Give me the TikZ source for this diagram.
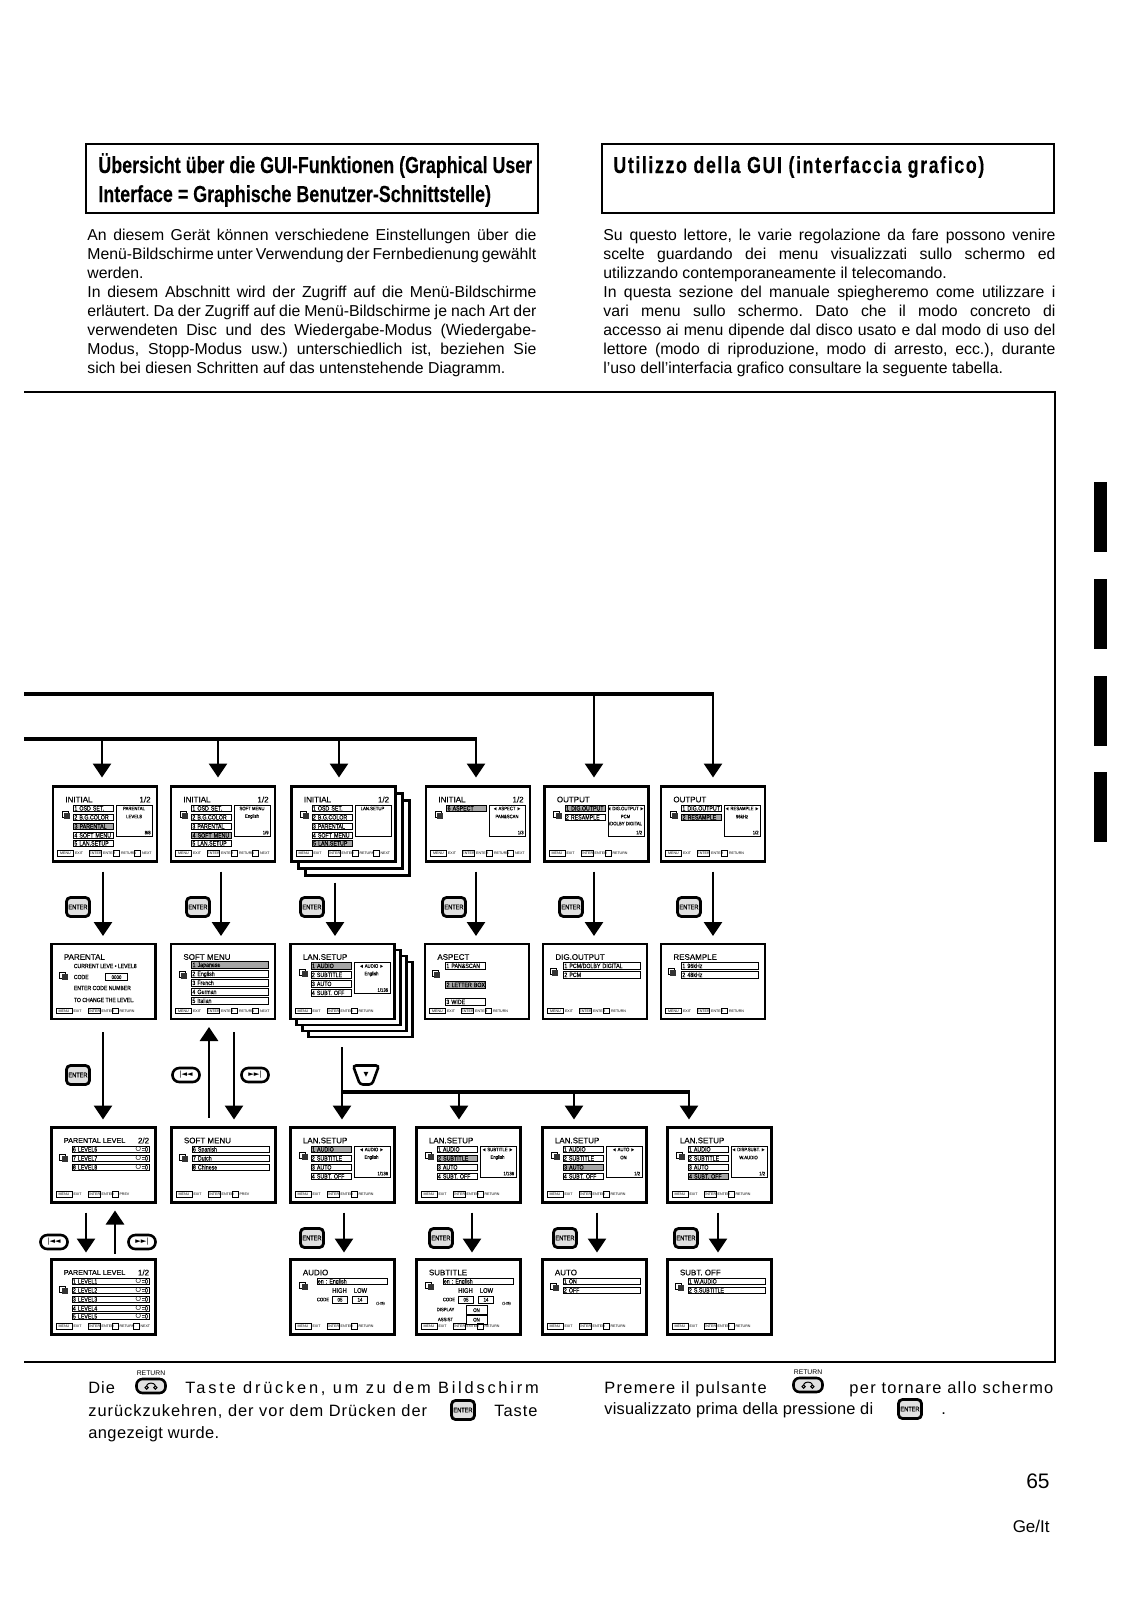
\documentclass[tikz,border=0pt]{standalone}
\usepackage{fontspec}
\setmainfont{Liberation Sans}
\newfontfamily\headfont[UprightFont=* Bold,FakeStretch=0.77,FakeBold=0.15]{Liberation Sans}
\newfontfamily\spacedfont[LetterSpace=6]{Liberation Sans}
\newfontfamily\menufont[FakeStretch=0.85,FakeBold=0.1]{Liberation Sans}
\newfontfamily\scrnfont[FakeBold=0.15]{Liberation Sans}
\newfontfamily\glyphfont{DejaVu Sans}
\usepackage{xcolor}
\usetikzlibrary{arrows.meta,positioning,shapes.geometric}
\newcommand{\uifont}[1]{\fontsize{#1}{#1}\selectfont}
% Texts of one menu screen, placed from its upper left corner in pixels.
\newcommand{\scrntitle}[2]{\node[scrnhead] (#1-title) at ([shift={(12,13)}]#1.north west) {#2};}
\newcommand{\scrnpage}[2]{\node[scrnhead,anchor=east] (#1-page) at ([shift={(98,13)}]#1.north west) {#2};}
\newcommand{\menuopt}[5][opt]{\node[#1,text width=19pt] (#2-opt#3) at ([shift={(20,#4)}]#2.north west) {\mbox{#5}};}
\newcommand{\wideopt}[5][opt]{\node[#1,text width=37.5pt] (#2-opt#3) at ([shift={(20,#4)}]#2.north west) {#5};}
\newcommand{\scrnicon}[3]{%
  \node[iconback] (#1-iconb) at ([shift={(#2,#3)}]#1.north west) {};
  \node[iconfront] (#1-iconf) at ([shift={(#2+2,#3+1.5)}]#1.north west) {};}
\newcommand{\scrnside}[4]{%
  \node[panel] (#1-side) at ([shift={(63,18)}]#1.north west) {};
  \node[panelnote] (#1-side1) at ([shift={(81,22)}]#1.north west) {#2};
  \node[panelnote] (#1-side2) at ([shift={(81,30)}]#1.north west) {#3};
  \node[panelnote,anchor=east] (#1-side3) at ([shift={(98,46)}]#1.north west) {#4};}
\newcommand{\barkey}[5]{%
  \node[barkeybox,minimum width=#4*0.5pt] (#1-key#2) at ([shift={(#3,67)}]#1.north west) {\uifont{1.8}#5};}
\newcommand{\barlabel}[3]{\node[barnote,right=0.4pt of #1-key#2] (#1-lab#2) {#3};}
% Key hints along the foot of a screen.
\newcommand{\basebar}[1]{%
  \barkey{#1}{1}{4}{16}{MENU}\barlabel{#1}{1}{EXIT}
  \barkey{#1}{2}{36}{12}{ENTER}\barlabel{#1}{2}{ENTER}}
\newcommand{\returnbar}[1]{\basebar{#1}
  \barkey{#1}{3}{60}{6}{}\barlabel{#1}{3}{RETURN}}
\newcommand{\nextbar}[1]{\returnbar{#1}
  \barkey{#1}{4}{81}{6}{}\barlabel{#1}{4}{NEXT}}
\newcommand{\prevbar}[1]{\basebar{#1}
  \barkey{#1}{3}{60}{6}{}\barlabel{#1}{3}{PREV}}
% The menus that repeat, with the style of each line as argument.
\newcommand{\initialmenu}[6]{%
  \scrntitle{#1}{INITIAL}\scrnpage{#1}{1/2}\scrnicon{#1}{12}{28}
  \menuopt[#2]{#1}{1}{22}{1 OSD SET.}
  \menuopt[#3]{#1}{2}{31}{2 B.G.COLOR}
  \menuopt[#4]{#1}{3}{40}{3 PARENTAL}
  \menuopt[#5]{#1}{4}{49}{4 SOFT MENU}
  \menuopt[#6]{#1}{5}{57}{5 LAN.SETUP}
  \nextbar{#1}}
\newcommand{\lanmenu}[5]{%
  \scrntitle{#1}{LAN.SETUP}\scrnicon{#1}{12}{28}
  \menuopt[#2]{#1}{1}{22}{1 AUDIO}
  \menuopt[#3]{#1}{2}{31}{2 SUBTITLE}
  \menuopt[#4]{#1}{3}{40}{3 AUTO}
  \menuopt[#5]{#1}{4}{49}{4 SUBT. OFF}
  \returnbar{#1}}
\newcommand{\codepanel}[2]{%
  \scrntitle{#1}{#2}\scrnicon{#1}{12}{26}
  \node[opt,text width=34pt] (#1-lang) at ([shift={(26,22)}]#1.north west) {en : English};
  \node[panelnote,font=\menufont\uifont{3.4}] (#1-high) at ([shift={(49,31)}]#1.north west) {HIGH};
  \node[panelnote,font=\menufont\uifont{3.4}] (#1-low) at ([shift={(70,31)}]#1.north west) {LOW};
  \node[panelnote,anchor=east] (#1-code) at ([shift={(39,40)}]#1.north west) {CODE};
  \node[valuebox,minimum width=7.5pt] (#1-hv) at ([shift={(49.5,40)}]#1.north west) {05};
  \node[valuebox,minimum width=7.5pt] (#1-lv) at ([shift={(69.5,40)}]#1.north west) {14};
  \node[panelnote,font=\menufont\uifont{1.8}] (#1-range) at ([shift={(90,44)}]#1.north west) {(1-26)};}
% Button drawn between two menu levels.
\newcommand{\returnicon}[3]{%
  \node[returnbtn] (#1) at (#2,#3) {};
  \node[returndisc] (#1-l) at ([xshift=-2.2pt,yshift=-0.8pt]#1.center) {};
  \node[returndisc] (#1-r) at ([xshift=2.2pt,yshift=-0.8pt]#1.center) {};
  \draw[line width=0.5pt] (#1-l.north) to[out=70,in=110] (#1-r.north);
  \node[returnnote] (#1-note) at (#2,#3-13) {RETURN};}
\frenchspacing
\begin{document}
\begin{tikzpicture}[x=0.5pt,y=-0.5pt,
  headbox/.style={draw,line width=0.7pt,minimum width=226pt,minimum height=34.5pt,outer sep=0pt},
  headline/.style={anchor=base west,inner sep=0pt,font=\headfont\fontsize{11.6}{14.5}\selectfont},
  bodytext/.style={anchor=north west,inner sep=0pt,text width=226pt,align=justify,
                   font=\fontsize{7.9}{9.5}\selectfont},
  foottext/.style={anchor=base west,inner sep=0pt,font=\spacedfont\fontsize{8.2}{10}\selectfont},
  pageno/.style={anchor=base east,inner sep=0pt},
  edgebar/.style={fill=black,minimum width=6.5pt,inner sep=0pt},
  frameline/.style={line width=0.7pt},
  screen/.style={draw,fill=white,line width=1.2pt,minimum width=52pt,minimum height=37.5pt,
                 inner sep=0pt,outer sep=0pt},
  scrnhead/.style={anchor=west,inner sep=0pt,font=\scrnfont\uifont{4}},
  opt/.style={draw,line width=0.4pt,anchor=west,inner xsep=0.5pt,inner ysep=0pt,align=left,
              text height=2.6pt,text depth=0.6pt,font=\menufont\uifont{3.1}},
  sel/.style={opt,fill=black!35,line width=0.6pt},
  valuebox/.style={draw,line width=0.4pt,inner sep=0pt,minimum height=3.4pt,
                   text height=2.3pt,text depth=0.3pt,font=\menufont\uifont{2.6}},
  panel/.style={draw,line width=0.5pt,anchor=north west,minimum width=18pt,minimum height=15.5pt,
                inner sep=0pt},
  panelnote/.style={inner sep=0pt,font=\menufont\uifont{2.5}},
  barkeybox/.style={draw,line width=0.4pt,anchor=west,inner sep=0pt,minimum height=2.8pt,
                    text height=1.6pt,text depth=0.2pt},
  barnote/.style={inner sep=0pt,font=\uifont{1.8}},
  iconback/.style={draw,line width=0.3pt,fill=white,minimum size=3pt,inner sep=0pt},
  iconfront/.style={fill=black!80,minimum size=3pt,inner sep=0pt},
  arrow/.style={-{Triangle[length=7pt,width=9pt]},line width=1.4pt},
  trunk/.style={line width=1.7pt},
  flow/.style={arrow,shorten <=5pt,shorten >=4pt},
  enterbtn/.style={draw,line width=1.4pt,rounded corners=2pt,fill=black!12,minimum width=11.5pt,
                   minimum height=9.5pt,inner sep=0pt,font=\menufont\uifont{3.3}},
  skipbtn/.style={draw,line width=1.3pt,rounded corners=3.4pt,minimum width=13.5pt,minimum height=7pt,
                  inner sep=0pt,font=\glyphfont\uifont{3.6}},
  cursorbtn/.style={draw,line width=1.3pt,trapezium,shape border rotate=180,rounded corners=1.5pt,
                    trapezium stretches=true,minimum width=13pt,minimum height=9.5pt,inner sep=0pt,
                    font=\glyphfont\uifont{3.2}},
  returnbtn/.style={draw,line width=1.3pt,rounded corners=3pt,minimum width=14.5pt,minimum height=7pt,
                    inner sep=0pt,fill=black!12},
  returndisc/.style={draw,circle,line width=0.5pt,minimum size=1.6pt,inner sep=0pt},
  returnnote/.style={inner sep=0pt,font=\uifont{3.4}}
]
\useasboundingbox (0,0) rectangle (1131,1600);

% Headings and introduction in the two languages.
\node[headbox] (headde) at (312,178.5) {};
\node[headline] (headde1) at (98,173) {Übersicht über die GUI-Funktionen (Graphical User};
\node[headline] (headde2) at (98,202) {Interface = Graphische Benutzer-Schnittstelle)};
\node[headbox] (headit) at (828,178.5) {};
\node[headline] (headit1) at (613,173) {\addfontfeature{LetterSpace=6.8}Utilizzo della GUI (interfaccia grafico)};
\node[bodytext,text width=224.5pt] (introde) at (87,229)
  {An diesem Gerät können verschiedene Einstellungen über die\linebreak
   Menü-Bildschirme unter Verwendung der Fernbedienung gewählt\linebreak
   werden.\\
   In diesem Abschnitt wird der Zugriff auf die Menü-Bildschirme\linebreak
   erläutert. Da der Zugriff auf die Menü-Bildschirme je nach Art der\linebreak
   verwendeten Disc und des Wiedergabe-Modus (Wiedergabe-\linebreak
   Modus, Stopp-Modus usw.) unterschiedlich ist, beziehen Sie\linebreak
   sich bei diesen Schritten auf das untenstehende Diagramm.};
\node[bodytext] (introit) at (603,229)
  {Su questo lettore, le varie regolazione da fare possono venire\linebreak
   scelte guardando dei menu visualizzati sullo schermo ed\linebreak
   utilizzando contemporaneamente il telecomando.\\
   In questa sezione del manuale spiegheremo come utilizzare i\linebreak
   vari menu sullo schermo. Dato che il modo concreto di\linebreak
   accesso ai menu dipende dal disco usato e dal modo di uso del\linebreak
   lettore (modo di riproduzione, modo di arresto, ecc.), durante\linebreak
   l’uso dell’interfacia grafico consultare la seguente tabella.};
\draw[frameline] (24,392) -| (1055,1362) -- (24,1362);

% Thumb marks on the page edge.
\node[edgebar,minimum height=35pt] (mark1) at (1100.5,517) {};
\node[edgebar,minimum height=35pt] (mark2) at (1100.5,613.5) {};
\node[edgebar,minimum height=35pt] (mark3) at (1100.5,711) {};
\node[edgebar,minimum height=35pt] (mark4) at (1100.5,807) {};

% First row of screens.
\node[screen] (a3-back2) at (357.5,838) {};
\node[screen] (a3-back1) at (350.5,831) {};
\node[screen] (a1) at (105,824) {};
\node[screen] (a2) at (223,824) {};
\node[screen] (a3) at (343.5,824) {};
\node[screen] (a4) at (478,824) {};
\node[screen] (a5) at (596.5,824) {};
\node[screen] (a6) at (713,824) {};
\initialmenu{a1}{opt}{opt}{sel}{opt}{opt}
\scrnside{a1}{PARENTAL}{LEVEL8}{8/8}
\initialmenu{a2}{opt}{opt}{opt}{sel}{opt}
\scrnside{a2}{SOFT MENU}{English}{1/9}
\initialmenu{a3}{opt}{opt}{opt}{opt}{sel}
\scrnside{a3}{LAN.SETUP}{}{}
\scrntitle{a4}{INITIAL}\scrnpage{a4}{1/2}\scrnicon{a4}{12}{28}
\menuopt[sel]{a4}{1}{22}{6 ASPECT}
\scrnside{a4}{◄ ASPECT ►}{PAN\&SCAN}{1/3}
\nextbar{a4}
\scrntitle{a5}{OUTPUT}\scrnicon{a5}{12}{28}
\menuopt[sel]{a5}{1}{22}{1 DIG.OUTPUT}
\menuopt{a5}{2}{31}{2 RESAMPLE}
\scrnside{a5}{◄ DIG.OUTPUT ►}{PCM}{1/2}
\node[panelnote] (a5-side4) at ([shift={(81,37)}]a5.north west) {/DOLBY DIGITAL};
\returnbar{a5}
\scrntitle{a6}{OUTPUT}\scrnicon{a6}{12}{28}
\menuopt{a6}{1}{22}{1 DIG.OUTPUT}
\menuopt[sel]{a6}{2}{31}{2 RESAMPLE}
\scrnside{a6}{◄ RESAMPLE ►}{96kHz}{1/2}
\returnbar{a6}

% Second row of screens.
\node[screen] (b3-back3) at (360.5,999.5) {};
\node[screen] (b3-back2) at (354.5,993.5) {};
\node[screen] (b3-back1) at (348.5,987.5) {};
\node[screen] (b1) at (103.5,981.5) {};
\node[screen] (b2) at (223,981.5) {};
\node[screen] (b3) at (342.5,981.5) {};
\node[screen] (b4) at (477,981.5) {};
\node[screen] (b5) at (595,981.5) {};
\node[screen] (b6) at (713,981.5) {};
\scrntitle{b1}{PARENTAL}\scrnicon{b1}{11}{31}
\node[panelnote,anchor=west,font=\menufont\uifont{3}] (b1-line1) at ([shift={(22,22)}]b1.north west) {CURRENT LEVE • LEVEL8};
\node[panelnote,anchor=west,font=\menufont\uifont{3}] (b1-line2) at ([shift={(22,33)}]b1.north west) {CODE};
\node[valuebox,minimum width=11pt] (b1-code) at ([shift={(65,33)}]b1.north west) {0000};
\node[panelnote,anchor=west,font=\menufont\uifont{3}] (b1-line3) at ([shift={(22,44)}]b1.north west) {ENTER CODE NUMBER};
\node[panelnote,anchor=west,font=\menufont\uifont{3}] (b1-line4) at ([shift={(22,56)}]b1.north west) {TO CHANGE THE LEVEL.};
\returnbar{b1}
\scrntitle{b2}{SOFT MENU}\scrnicon{b2}{11}{30}
\wideopt[sel]{b2}{1}{21}{1 Japanese}
\wideopt{b2}{2}{30}{2 English}
\wideopt{b2}{3}{39}{3 French}
\wideopt{b2}{4}{48}{4 German}
\wideopt{b2}{5}{57}{5 Italian}
\nextbar{b2}
\lanmenu{b3}{sel}{opt}{opt}{opt}
\scrnside{b3}{◄ AUDIO ►}{English}{1/136}
\scrntitle{b4}{ASPECT}\scrnicon{b4}{10}{29}
\menuopt{b4}{1}{22}{1 PAN\&SCAN}
\menuopt[sel]{b4}{2}{41}{2 LETTER BOX}
\menuopt{b4}{3}{58}{3 WIDE}
\returnbar{b4}
\scrntitle{b5}{DIG.OUTPUT}\scrnicon{b5}{10}{27}
\wideopt{b5}{1}{22}{1 PCM/DOLBY DIGITAL}
\wideopt{b5}{2}{31}{2 PCM}
\returnbar{b5}
\scrntitle{b6}{RESAMPLE}\scrnicon{b6}{10}{27}
\wideopt{b6}{1}{22}{1 96kHz}
\wideopt{b6}{2}{31}{2 48kHz}
\returnbar{b6}

% Third row of screens.
\node[screen] (c1) at (103.5,1165) {};
\node[screen] (c2) at (223.5,1165) {};
\node[screen] (c3) at (342.5,1165) {};
\node[screen] (c4) at (468.5,1165) {};
\node[screen] (c5) at (594.5,1165) {};
\node[screen] (c6) at (719.5,1165) {};
\node[scrnhead,font=\scrnfont\uifont{3.6}] (c1-title) at ([shift={(12,13)}]c1.north west) {PARENTAL LEVEL};
\scrnpage{c1}{2/2}\scrnicon{c1}{11}{30}
\wideopt{c1}{1}{22}{6 LEVEL6\hfill $\circ$=0}
\wideopt{c1}{2}{31}{7 LEVEL7\hfill $\circ$=0}
\wideopt{c1}{3}{40}{8 LEVEL8\hfill $\circ$=0}
\prevbar{c1}
\scrntitle{c2}{SOFT MENU}\scrnicon{c2}{11}{30}
\wideopt{c2}{1}{22}{6 Spanish}
\wideopt{c2}{2}{31}{7 Dutch}
\wideopt{c2}{3}{40}{8 Chinese}
\prevbar{c2}
\lanmenu{c3}{sel}{opt}{opt}{opt}
\scrnside{c3}{◄ AUDIO ►}{English}{1/136}
\lanmenu{c4}{opt}{sel}{opt}{opt}
\scrnside{c4}{◄ SUBTITLE ►}{English}{1/136}
\lanmenu{c5}{opt}{opt}{sel}{opt}
\scrnside{c5}{◄ AUTO ►}{ON}{1/2}
\lanmenu{c6}{opt}{opt}{opt}{sel}
\scrnside{c6}{◄ DISP.SUBT. ►}{W.AUDIO}{1/2}

% Fourth row of screens.
\node[screen] (d1) at (103.5,1297) {};
\node[screen] (d3) at (342.5,1297) {};
\node[screen] (d4) at (468.5,1297) {};
\node[screen] (d5) at (594.5,1297) {};
\node[screen] (d6) at (719.5,1297) {};
\node[scrnhead,font=\scrnfont\uifont{3.6}] (d1-title) at ([shift={(12,13)}]d1.north west) {PARENTAL LEVEL};
\scrnpage{d1}{1/2}\scrnicon{d1}{11}{30}
\wideopt{d1}{1}{22}{1 LEVEL1\hfill $\circ$=0}
\wideopt{d1}{2}{31}{2 LEVEL2\hfill $\circ$=0}
\wideopt{d1}{3}{40}{3 LEVEL3\hfill $\circ$=0}
\wideopt{d1}{4}{49}{4 LEVEL4\hfill $\circ$=0}
\wideopt{d1}{5}{57}{5 LEVEL5\hfill $\circ$=0}
\nextbar{d1}
\codepanel{d3}{AUDIO}
\returnbar{d3}
\codepanel{d4}{SUBTITLE}
\node[panelnote] (d4-disp) at ([shift={(29,50)}]d4.north west) {DISPLAY};
\node[valuebox,minimum width=10.5pt,minimum height=4.4pt] (d4-dispv) at ([shift={(60,50.5)}]d4.north west) {ON};
\node[panelnote] (d4-assist) at ([shift={(29,60)}]d4.north west) {ASSIST};
\node[valuebox,minimum width=10.5pt,minimum height=4.4pt] (d4-assistv) at ([shift={(60,60)}]d4.north west) {ON};
\returnbar{d4}
\scrntitle{d5}{AUTO}\scrnicon{d5}{11}{27}
\wideopt{d5}{1}{22}{1 ON}
\wideopt{d5}{2}{31}{2 OFF}
\returnbar{d5}
\scrntitle{d6}{SUBT. OFF}\scrnicon{d6}{11}{27}
\wideopt{d6}{1}{22}{1 W.AUDIO}
\wideopt{d6}{2}{31}{2 S.SUBTITLE}
\returnbar{d6}

% Lanes of the vertical arrows.
\coordinate (feedA) at (24,694);
\coordinate (feedB) at (24,739);
\coordinate (t1) at (102,0);
\coordinate (t2) at (218,0);
\coordinate (t3) at (339,0);
\coordinate (t4) at (476,0);
\coordinate (t5) at (594,0);
\coordinate (t6) at (713,0);
\coordinate (m1) at (103,0);
\coordinate (m2) at (221,0);
\coordinate (m3) at (335,0);
\coordinate (p1) at (103,0);
\coordinate (p2) at (209,0);
\coordinate (p3) at (234,0);
\coordinate (p4) at (342,0);
\coordinate (p5) at (459,0);
\coordinate (p6) at (574,0);
\coordinate (p7) at (689,0);
\coordinate (q1) at (86,0);
\coordinate (q2) at (115,0);
\coordinate (q3) at (344,0);
\coordinate (q4) at (472,0);
\coordinate (q5) at (597,0);
\coordinate (q6) at (718,0);
\coordinate (split) at (342,1092);

% Feed lines into the first row.
\draw[trunk] (feedA) -- ([xshift=0.7pt]feedA -| t6);
\draw[trunk] (feedB) -- ([xshift=0.7pt]feedB -| t4);
\draw[arrow,shorten >=4.5pt] (feedA -| t6) -- (a6.north -| t6);
\draw[arrow,shorten >=4.5pt] (feedA -| t5) -- (a5.north -| t5);
\draw[arrow,shorten >=4.5pt] (feedB -| t4) -- (a4.north -| t4);
\draw[arrow,shorten >=4.5pt] (feedB -| t1) -- (a1.north -| t1);
\draw[arrow,shorten >=4.5pt] (feedB -| t2) -- (a2.north -| t2);
\draw[arrow,shorten >=4.5pt] (feedB -| t3) -- (a3.north -| t3);

% First row to second row.
\draw[flow] (a1.south -| m1) -- (b1.north -| m1);
\draw[flow] (a2.south -| m2) -- (b2.north -| m2);
\draw[flow,shorten <=3.5pt] (a3-back2.south -| m3) -- (b3.north -| m3);
\draw[flow] (a4.south -| t4) -- (b4.north -| t4);
\draw[flow] (a5.south -| t5) -- (b5.north -| t5);
\draw[flow] (a6.south -| t6) -- (b6.north -| t6);

% Second row to third row.
\draw[flow,shorten <=6.5pt] (b1.south -| p1) -- (c1.north -| p1);
\draw[flow] (c2.north -| p2) -- (b2.south -| p2);
\draw[flow,shorten <=6.5pt] (b2.south -| p3) -- (c2.north -| p3);
\draw[flow] (b3-back3.south -| p4) -- (c3.north -| p4);
\draw[trunk] (split) -- ([xshift=0.7pt]split -| p7);
\draw[arrow,shorten >=4pt] (split -| p7) -- (c6.north -| p7);
\draw[arrow,shorten >=4pt] (split -| p5) -- (c4.north -| p5);
\draw[arrow,shorten >=4pt] (split -| p6) -- (c5.north -| p6);

% Third row to fourth row.
\draw[flow,shorten >=3.5pt] (c1.south -| q1) -- (d1.north -| q1);
\draw[flow,shorten <=3pt] (d1.north -| q2) -- (c1.south -| q2);
\draw[flow,shorten >=3.5pt] (c3.south -| q3) -- (d3.north -| q3);
\draw[flow,shorten >=3.5pt] (c4.south -| q4) -- (d4.north -| q4);
\draw[flow,shorten >=3.5pt] (c5.south -| q5) -- (d5.north -| q5);
\draw[flow,shorten >=3.5pt] (c6.south -| q6) -- (d6.north -| q6);

% Buttons beside the arrows.
\node[enterbtn] (enter1) at (78,907) {ENTER};
\node[enterbtn] (enter2) at (198,907) {ENTER};
\node[enterbtn] (enter3) at (312,907) {ENTER};
\node[enterbtn] (enter4) at (454,907) {ENTER};
\node[enterbtn] (enter5) at (571,907) {ENTER};
\node[enterbtn] (enter6) at (689,907) {ENTER};
\node[enterbtn] (enter7) at (78,1075) {ENTER};
\node[skipbtn] (prev1) at (186,1075) {|◄◄};
\node[skipbtn] (next1) at (255,1075) {►►|};
\node[cursorbtn] (down) at (366,1075) {▼};
\node[skipbtn] (prev2) at (54,1242) {|◄◄};
\node[skipbtn] (next2) at (142,1242) {►►|};
\node[enterbtn] (enter8) at (312,1238) {ENTER};
\node[enterbtn] (enter9) at (441,1238) {ENTER};
\node[enterbtn] (enter10) at (565,1238) {ENTER};
\node[enterbtn] (enter11) at (686,1238) {ENTER};

% Note under the table.
\node[foottext] (notede1) at (88,1393) {Die};
\returnicon{retde}{151}{1386}
\node[foottext] (notede2) at (185,1393) {\addfontfeature{LetterSpace=17}Taste drücken, um zu dem Bildschirm};
\node[foottext] (notede3) at (88,1416) {zurückzukehren, der vor dem Drücken der};
\node[enterbtn] (enterde) at (463,1410) {ENTER};
\node[foottext] (notede4) at (494,1416) {Taste};
\node[foottext] (notede5) at (88,1438) {\addfontfeature{LetterSpace=2.6}angezeigt wurde.};
\node[foottext] (noteit1) at (604,1393) {\addfontfeature{LetterSpace=8}Premere il pulsante};
\returnicon{retit}{808}{1385}
\node[foottext] (noteit2) at (849,1393) {\addfontfeature{LetterSpace=8}per tornare allo schermo};
\node[foottext] (noteit3) at (604,1414) {\addfontfeature{LetterSpace=1.2}visualizzato prima della pressione di};
\node[enterbtn] (enterit) at (910,1409) {ENTER};
\node[foottext] (noteit4) at (941,1414) {.};

% Page number and language code.
\node[pageno,font=\fontsize{10.5}{12}\selectfont] (pagenum) at (1050,1488) {65};
\node[pageno,font=\fontsize{8.5}{10}\selectfont] (pagelang) at (1050,1532) {Ge/It};
\end{tikzpicture}
\end{document}
